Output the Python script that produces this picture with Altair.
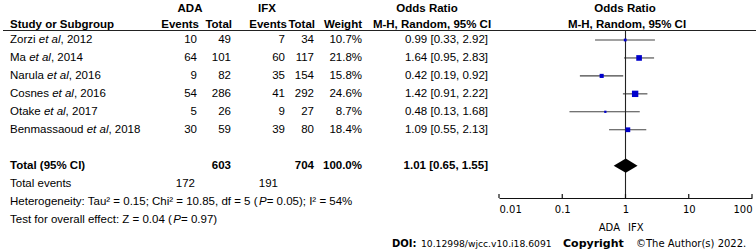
import altair as alt
import pandas as pd

# ---------------- data ----------------
authors = ["Zorzi", "Ma", "Narula", "Cosnes", "Otake", "Benmassaoud"]
years = [2012, 2014, 2016, 2016, 2017, 2018]
ada_events = [10, 64, 9, 54, 5, 30]
ada_total = [49, 101, 82, 286, 26, 59]
ifx_events = [7, 60, 35, 41, 9, 39]
ifx_total = [34, 117, 154, 292, 27, 80]
weights = [10.7, 21.8, 15.8, 24.6, 8.7, 18.4]
or_est = [0.99, 1.64, 0.42, 1.42, 0.48, 1.09]
or_lo = [0.33, 0.95, 0.19, 0.91, 0.13, 0.55]
or_hi = [2.92, 2.83, 0.92, 2.22, 1.68, 2.13]

total_ada = [603]
total_ifx = [704]
total_weight = ["100.0%"]
pooled = [1.01]
pooled_lo = [0.65]
pooled_hi = [1.55]
events_ada = [172]
events_ifx = [191]
het_parts = ["Heterogeneity: Tau\u00b2 = 0.15; Chi\u00b2 = 10.85, df = 5 (", "P", "= 0.05); I\u00b2 = 54%"]
test_parts = ["Test for overall effect: Z = 0.04 (", "P", "= 0.97)"]
tick_values = [0.01, 0.1, 1, 10, 100]

# ---------------- styling helpers ----------------
FONT = "Liberation Sans"
FS = 11.5
X0 = 10
AW = {' ': 278, ',': 278, '.': 278, ':': 278, ';': 278, '(': 333, ')': 333, '=': 584,
      '\u00b2': 333, '%': 889, '[': 278, ']': 278, '-': 333,
      'A': 667, 'B': 667, 'C': 722, 'D': 722, 'E': 667, 'F': 611, 'G': 778, 'H': 722,
      'I': 278, 'J': 500, 'K': 667, 'L': 556, 'M': 833, 'N': 722, 'O': 778, 'P': 667,
      'Q': 778, 'R': 722, 'S': 667, 'T': 611, 'U': 722, 'V': 667, 'W': 944, 'X': 667,
      'Y': 667, 'Z': 611,
      'a': 556, 'b': 556, 'c': 500, 'd': 556, 'e': 556, 'f': 278, 'g': 556, 'h': 556,
      'i': 222, 'j': 222, 'k': 500, 'l': 222, 'm': 833, 'n': 556, 'o': 556, 'p': 556,
      'q': 556, 'r': 333, 's': 500, 't': 278, 'u': 556, 'v': 500, 'w': 722, 'x': 500,
      'y': 500, 'z': 500}


def tw(s, fs=FS):
    return sum(AW.get(c, 556) for c in s) * fs / 1000.0


yscale = alt.Scale(domain=[0, 10], range=[40, 219.5], zero=False, nice=False)
xscale = alt.Scale(type="log", domain=[0.01, 100], range=[499, 752], nice=False)
xaxis = alt.Axis(values=tick_values, format="~g", ticks=False, grid=False,
                 domainColor="#111111", domainWidth=1.2, labelFont="DejaVu Sans",
                 labelFontSize=10, labelColor="black", labelPadding=6,
                 labelFlush=True, title=None)

studies = pd.DataFrame({
    "row": list(range(len(authors))),
    "author": authors,
    "etal": ["et al"] * len(authors),
    "yr": [", %d" % y for y in years],
    "x_etal": [X0 + tw(a + " ") for a in authors],
    "x_yr": [X0 + tw(a + " ") + tw("et al") for a in authors],
    "ada_e": [str(v) for v in ada_events],
    "ada_t": [str(v) for v in ada_total],
    "ifx_e": [str(v) for v in ifx_events],
    "ifx_t": [str(v) for v in ifx_total],
    "wtxt": ["%.1f%%" % w for w in weights],
    "weight": weights,
    "est": or_est,
    "lo": or_lo,
    "hi": or_hi,
    "ortxt": ["%.2f [%.2f, %.2f]" % (e, l, h) for e, l, h in zip(or_est, or_lo, or_hi)],
})

total_df = pd.DataFrame({
    "row": [7],
    "label": ["Total (95% CI)"],
    "ada_t": [str(v) for v in total_ada],
    "ifx_t": [str(v) for v in total_ifx],
    "wtxt": total_weight,
    "ortxt": ["%.2f [%.2f, %.2f]" % (pooled[0], pooled_lo[0], pooled_hi[0])],
})
events_df = pd.DataFrame({
    "row": [8],
    "label": ["Total events"],
    "ada_e": [str(v) for v in events_ada],
    "ifx_e": [str(v) for v in events_ifx],
})
het_df = pd.DataFrame({"row": [9], "a": [het_parts[0]], "b": [het_parts[1]], "c": [het_parts[2]]})
test_df = pd.DataFrame({"row": [10], "a": [test_parts[0]], "b": [test_parts[1]], "c": [test_parts[2]]})

Y = alt.Y("row:Q", scale=yscale, axis=None)


def txt(df, field, x, align="right", weight="normal", style="normal", font=FONT, size=FS):
    xenc = alt.X(x + ":Q", scale=None, axis=None) if isinstance(x, str) else alt.value(x)
    return alt.Chart(df).mark_text(
        align=align, baseline="middle", font=font, fontSize=size,
        fontWeight=weight, fontStyle=style, color="black"
    ).encode(x=xenc, y=Y, text=alt.Text(field + ":N"))


def label(text, x, y, align="center", weight="bold", font=FONT, size=FS, style="normal"):
    return alt.Chart(pd.DataFrame({"t": [text]})).mark_text(
        align=align, baseline="middle", font=font, fontSize=size,
        fontWeight=weight, fontStyle=style, color="black"
    ).encode(x=alt.value(x), y=alt.value(y), text="t:N")


layers = []

# forest plot (first, so the axis is defined here)
layers.append(
    alt.Chart(studies).mark_rule(color="#444444", strokeWidth=1.1).encode(
        x=alt.X("lo:Q", scale=xscale, axis=xaxis), x2="hi:Q", y=Y)
)
layers.append(
    alt.Chart(pd.DataFrame({"v": [1]})).mark_rule(color="#222222", strokeWidth=1.1).encode(
        x=alt.X("v:Q", scale=xscale, axis=xaxis), y=alt.value(30.5), y2=alt.value(198))
)
layers.append(
    alt.Chart(pd.DataFrame({"t": tick_values})).mark_rule(color="#111111", strokeWidth=1.2).encode(
        x=alt.X("t:Q", scale=xscale, axis=xaxis), y=alt.value(194), y2=alt.value(198))
)
layers.append(
    alt.Chart(studies).mark_square(color="#0000CC", opacity=1, filled=True).encode(
        x=alt.X("est:Q", scale=xscale, axis=xaxis), y=Y,
        size=alt.Size("weight:Q", scale=alt.Scale(type="pow", exponent=2, domain=[0, 25], range=[0, 42]),
                      legend=None))
)
HALF = 0.4
diamond = pd.DataFrame({
    "x": [pooled_lo[0], pooled[0], pooled_hi[0]],
    "y": [7, 7 - HALF, 7],
    "y2": [7, 7 + HALF, 7],
})
layers.append(
    alt.Chart(diamond).mark_area(color="black", opacity=1).encode(
        x=alt.X("x:Q", scale=xscale, axis=xaxis),
        y=alt.Y("y:Q", scale=yscale, axis=None), y2="y2:Q")
)

# header
layers += [
    label("ADA", 190, 8.5),
    label("IFX", 267, 8.5),
    label("Odds Ratio", 427, 8.5),
    label("Odds Ratio", 625, 8.5),
    label("Study or Subgroup", X0, 24.5, align="left"),
    label("Events", 199, 24.5, align="right"),
    label("Total", 232, 24.5, align="right"),
    label("Events", 287, 24.5, align="right"),
    label("Total", 315, 24.5, align="right"),
    label("Weight", 362, 24.5, align="right"),
    label("M-H, Random, 95% CI", 432, 24.5),
    label("M-H, Random, 95% CI", 627, 24.5),
]
layers.append(
    alt.Chart(pd.DataFrame({"a": [0]})).mark_rule(color="#222222", strokeWidth=1.2).encode(
        x=alt.value(3), x2=alt.value(756), y=alt.value(30.5))
)

# study rows
layers += [
    txt(studies, "author", X0, align="left"),
    txt(studies, "etal", "x_etal", align="left", style="italic"),
    txt(studies, "yr", "x_yr", align="left"),
    txt(studies, "ada_e", 197),
    txt(studies, "ada_t", 231),
    txt(studies, "ifx_e", 285),
    txt(studies, "ifx_t", 314),
    txt(studies, "wtxt", 362),
    txt(studies, "ortxt", 488),
]

# total rows
layers += [
    txt(total_df, "label", X0, align="left", weight="bold"),
    txt(total_df, "ada_t", 231, weight="bold"),
    txt(total_df, "ifx_t", 314, weight="bold"),
    txt(total_df, "wtxt", 362, weight="bold"),
    txt(total_df, "ortxt", 488, weight="bold"),
    txt(events_df, "label", X0, align="left"),
    txt(events_df, "ada_e", 195),
    txt(events_df, "ifx_e", 278),
]

# heterogeneity / overall effect lines
for df, parts in ((het_df, het_parts), (test_df, test_parts)):
    xb = X0 + tw(parts[0])
    xc = xb + tw(parts[1])
    layers += [
        txt(df, "a", X0, align="left"),
        txt(df, "b", xb, align="left", style="italic"),
        txt(df, "c", xc, align="left"),
    ]

# favours labels and source line
layers += [
    label("ADA", 620, 228, align="right", weight="normal", font="DejaVu Sans", size=10),
    label("IFX", 628, 228, align="left", weight="normal", font="DejaVu Sans", size=10),
    label("DOI:", 392, 244, align="left", weight="bold", font="DejaVu Sans", size=10),
    label("10.12998/wjcc.v10.i18.6091", 421, 244, align="left", weight="normal", font="DejaVu Sans", size=9.2),
    label("Copyright", 563, 244, align="left", weight="bold", font="DejaVu Sans", size=11),
    label("\u00a9The Author(s) 2022.", 636, 244, align="left", weight="normal", font="DejaVu Sans", size=10),
]

chart = alt.layer(*layers).properties(
    width=756, height=198,
    padding={"left": 0, "right": 0, "top": 0, "bottom": 53},
    autosize=alt.AutoSizeParams(type="none"),
    background="white",
).configure_view(strokeWidth=0)

chart.save("out.html", embed_options={"renderer": "svg", "actions": False})
